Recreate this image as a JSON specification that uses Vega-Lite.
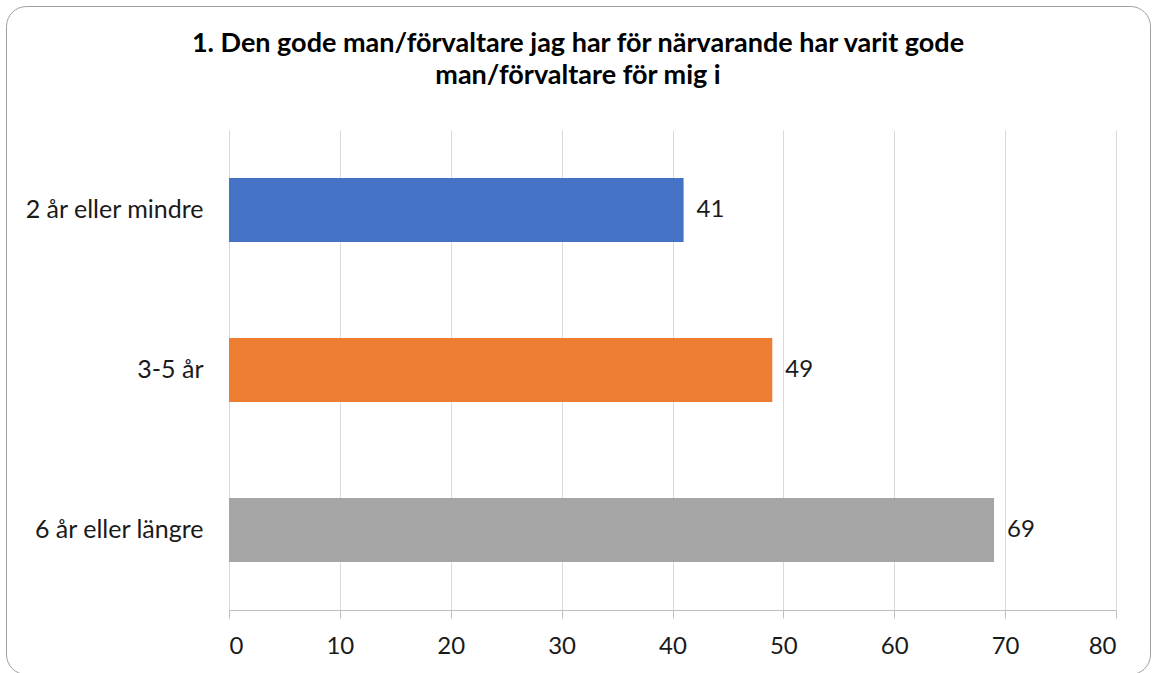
{
  "$schema": "https://vega.github.io/schema/vega-lite/v6.json",
  "autosize": "none",
  "width": 1144,
  "height": 668,
  "padding": {"left": 6, "top": 6, "right": 3, "bottom": 0},
  "background": "white",
  "title": {
    "text": ["1. Den gode man/förvaltare jag har för närvarande har varit gode", "man/förvaltare för mig i"],
    "anchor": "middle",
    "frame": "group",
    "font": "Lato",
    "fontSize": 27,
    "fontWeight": "bold",
    "color": "#000000",
    "lineHeight": 32,
    "baseline": "top",
    "offset": -84
  },
  "data": {
    "values": [
      {"kategori": "2 år eller mindre", "antal": 41},
      {"kategori": "3-5 år", "antal": 49},
      {"kategori": "6 år eller längre", "antal": 69}
    ]
  },
  "encoding": {
    "y": {
      "field": "kategori",
      "type": "nominal",
      "sort": null,
      "title": null,
      "scale": {"range": [124, 604], "paddingInner": 0.6, "paddingOuter": 0.3},
      "axis": {
        "domain": false,
        "ticks": false,
        "tickSize": 0,
        "labelPadding": 0,
        "offset": -197,
        "labelFont": "Lato",
        "labelFontSize": 25,
        "labelColor": "#1a1a1a",
        "grid": false
      }
    }
  },
  "layer": [
    {
      "mark": {"type": "bar"},
      "encoding": {
        "x": {
          "field": "antal",
          "type": "quantitative",
          "title": null,
          "scale": {"domain": [0, 80], "range": [223, 1110], "nice": false},
          "axis": {
            "orient": "top",
            "values": [0, 10, 20, 30, 40, 50, 60, 70, 80],
            "domain": false,
            "ticks": false,
            "labels": false,
            "grid": true,
            "gridColor": "#d9d9d9"
          }
        },
        "color": {
          "field": "kategori",
          "type": "nominal",
          "scale": {
            "domain": ["2 år eller mindre", "3-5 år", "6 år eller längre"],
            "range": ["#4472C4", "#ED7D31", "#A5A5A5"]
          },
          "legend": null
        }
      }
    },
    {
      "mark": {"type": "text", "align": "left", "baseline": "middle", "dx": 13, "font": "Lato", "fontSize": 24, "color": "#1a1a1a"},
      "encoding": {
        "x": {
          "field": "antal",
          "type": "quantitative",
          "title": null,
          "axis": {
            "orient": "bottom",
            "values": [0, 10, 20, 30, 40, 50, 60, 70, 80],
            "offset": -64,
            "grid": false,
            "domainColor": "#bfbfbf",
            "tickColor": "#bfbfbf",
            "tickSize": 8,
            "labelPadding": 16,
            "labelFont": "Lato",
            "labelFontSize": 24,
            "labelColor": "#1a1a1a"
          }
        },
        "text": {"field": "antal", "type": "quantitative"}
      }
    }
  ],
  "resolve": {"axis": {"x": "independent"}},
  "config": {
    "view": {"stroke": "#a0a0a0", "strokeWidth": 1, "cornerRadius": 20}
  }
}
